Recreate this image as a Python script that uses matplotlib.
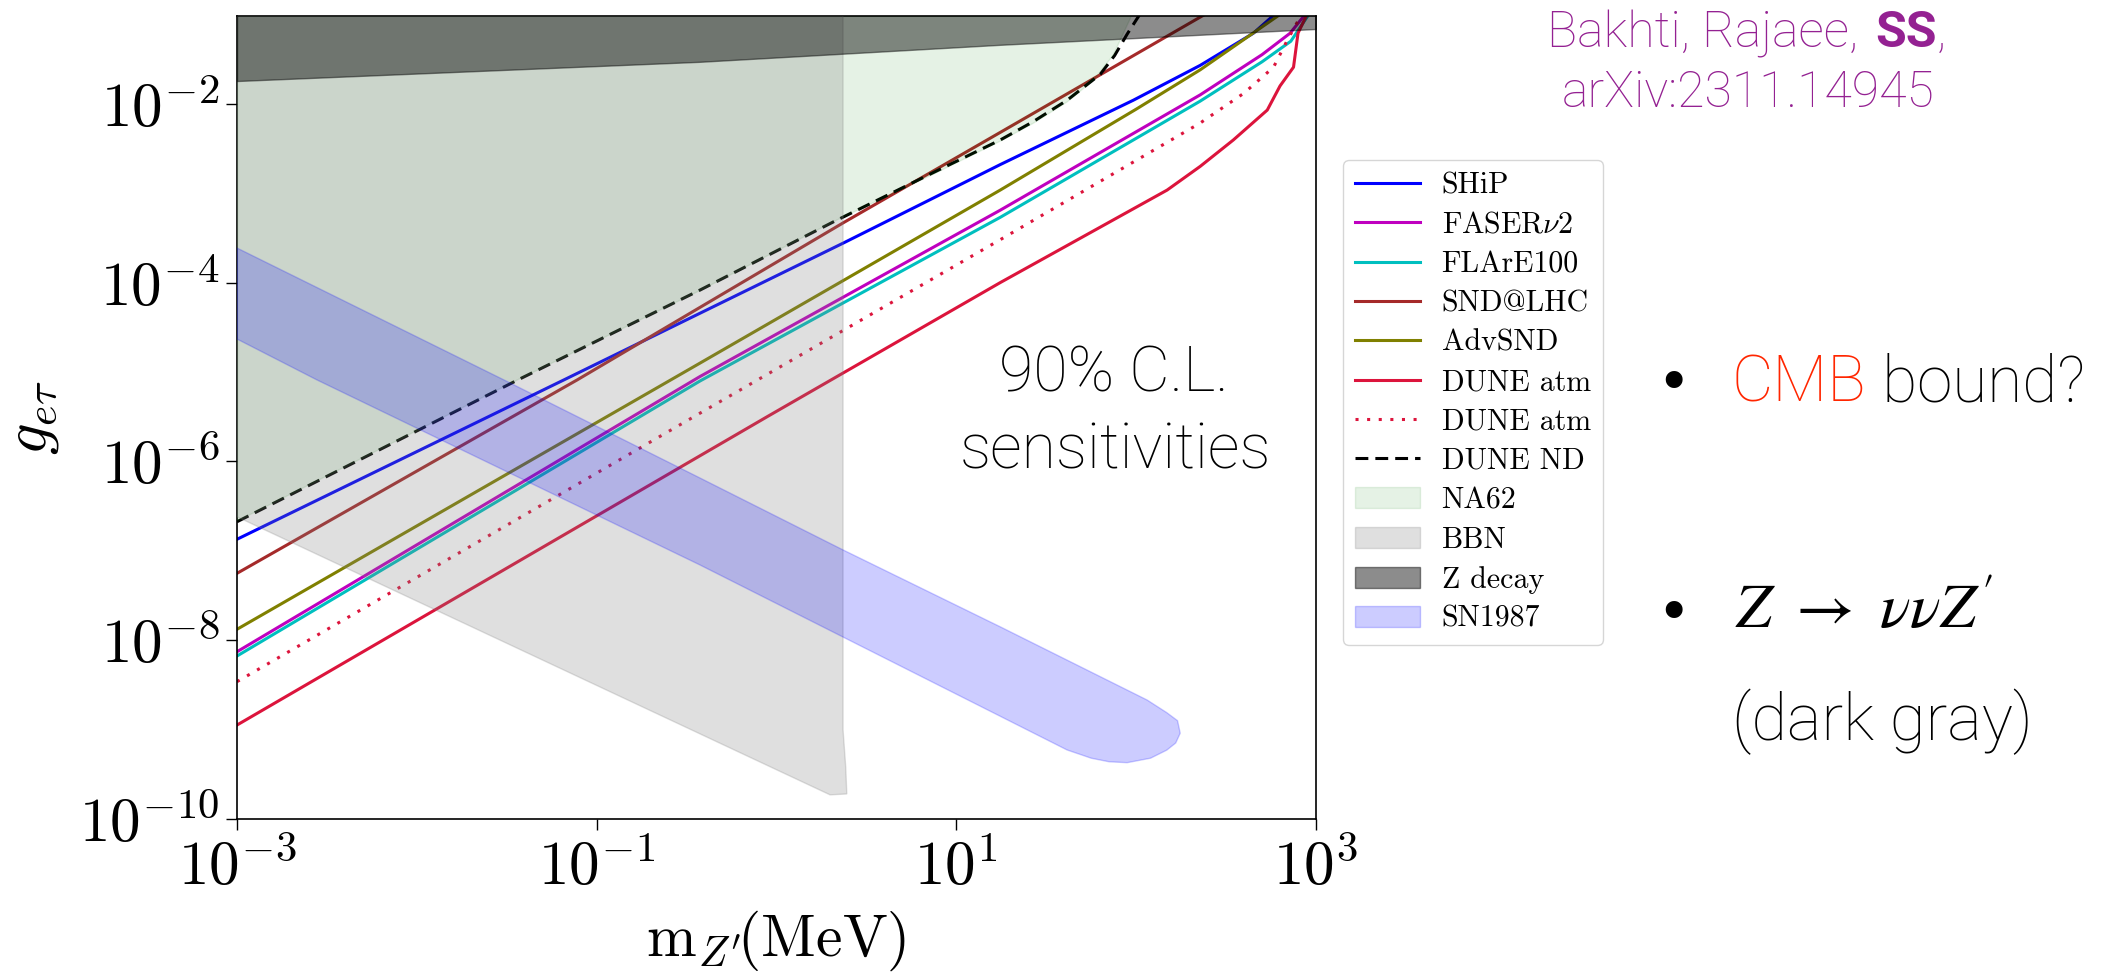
import numpy as np
import matplotlib
matplotlib.use("Agg")
import matplotlib.pyplot as plt
from matplotlib.ticker import FuncFormatter, NullLocator

#==========================================================#
#  values, stored as log10(m/MeV) and log10(g)
#==========================================================#
ship_lm = [-3, -1.183, 0.372, 1.244, 1.984, 2.356, 2.652, 2.77]
ship_lg = [-6.871, -5.089, -3.557, -2.68, -1.96, -1.57, -1.21, -1.0]

faser_lm = [-3, -0.425, 1.244, 2.356, 2.70, 2.856, 2.94]
faser_lg = [-8.129, -5.05, -3.19, -1.90, -1.45, -1.21, -1.0]

flare_lm = [-3, -0.425, 1.244, 2.356, 2.70, 2.86, 2.96]
flare_lg = [-8.177, -5.10, -3.27, -1.97, -1.53, -1.30, -1.0]

snd_lm = [-3, -1.109, 0.372, 1.244, 2.356, 2.40]
snd_lg = [-7.252, -5.089, -3.33, -2.32, -1.03, -0.98]

advsnd_lm = [-3, -0.425, 1.244, 2.0, 2.356, 2.80]
advsnd_lg = [-7.878, -4.90, -2.965, -2.06, -1.62, -1.0]

dune_atm_lm = [-3, -0.052, 1.244, 1.80, 2.172, 2.356, 2.54, 2.729, 2.80, 2.875, 2.90, 2.95]
dune_atm_lg = [-8.949, -5.5, -4.0, -3.38, -2.965, -2.70, -2.405, -2.07, -1.80, -1.59, -1.21, -1.0]

dune_atm2_lm = [-3, -0.425, 1.244, 2.356, 2.60, 2.764, 2.84, 2.92]
dune_atm2_lg = [-8.464, -5.46, -3.52, -2.215, -1.88, -1.59, -1.29, -1.0]

dune_nd_lm = [-3, -1.44, -0.425, 0.317, 0.871, 1.244, 1.427, 1.616, 1.80, 1.88, 1.95, 2.02]
dune_nd_lg = [-6.675, -5.09, -4.083, -3.32, -2.77, -2.405, -2.20, -1.96, -1.67, -1.46, -1.22, -1.0]

na62_lm = [-3, -1.44, -0.425, 0.317, 0.871, 1.244, 1.427, 1.616, 1.76, 1.87, 1.967, 2.0]
na62_lg = [-6.66, -5.08, -4.08, -3.31, -2.78, -2.41, -2.21, -1.97, -1.73, -1.45, -1.03, -0.5]

bbn_lm = [-3, 0.298, 0.391, 0.385, 0.37, 0.37, -3]
bbn_lg = [-6.62, -9.73, -9.72, -9.42, -9.0, 0.0, 0.0]

zdec_lm = [-3, -0.425, 1.244, 3]
zdec_lg = [-1.745, -1.53, -1.34, -1.163]

sn_lm = [-3, -1.515, -0.425, 0.37, 1.244, 2.061, 2.17, 2.23, 2.245, 2.22, 2.17, 2.08,
         1.95, 1.85, 1.75, 1.616, -0.425, -2.555, -3]
sn_lg = [-3.613, -5.089, -6.186, -6.99, -7.85, -8.669, -8.81, -8.9, -9.04, -9.15, -9.23, -9.32,
         -9.37, -9.36, -9.32, -9.228, -7.159, -5.089, -4.631]

W, H = 2115, 976

plt.rcParams.update({'font.family': 'serif',
                     'font.serif': ['cmr10', 'DejaVu Serif'],
                     'mathtext.fontset': 'cm',
                     'axes.formatter.use_mathtext': True,
                     'axes.linewidth': 1.2})

fig = plt.figure(figsize=(W / 100, H / 100), dpi=100)
ax = fig.add_axes([237 / W, (H - 819) / H, 1079 / W, 803 / H])

def p(lm, lg):
    return 10 ** np.array(lm, dtype=float), 10 ** np.array(lg, dtype=float)

lw = 2.2
ax.plot(*p(ship_lm, ship_lg), color='blue', lw=lw, label='SHiP')
ax.plot(*p(faser_lm, faser_lg), color='m', lw=lw, label=r'FASER$\nu$2')
ax.plot(*p(flare_lm, flare_lg), color='c', lw=lw, label='FLArE100')
ax.plot(*p(snd_lm, snd_lg), color='brown', lw=lw, label='SND@LHC')
ax.plot(*p(advsnd_lm, advsnd_lg), color='olive', lw=lw, label='AdvSND')
ax.plot(*p(dune_atm_lm, dune_atm_lg), color='crimson', lw=lw, label='DUNE atm')
ax.plot(*p(dune_atm2_lm, dune_atm2_lg), color='crimson', lw=lw, ls=(0, (1, 2.8)), label='DUNE atm')
ax.plot(*p(dune_nd_lm, dune_nd_lg), color='k', lw=lw, ls=(0, (4.2, 2.3)), label='DUNE ND')

m_na, g_na = p(na62_lm, na62_lg)
ax.fill_between(m_na, g_na, 1.0, color='green', alpha=0.1, zorder=3, label='NA62')
m_bbn, g_bbn = p(bbn_lm, bbn_lg)
ax.fill(m_bbn, g_bbn, color='gray', alpha=0.25, zorder=3, label='BBN')
m_z, g_z = p(zdec_lm, zdec_lg)
ax.fill_between(m_z, g_z, 1.0, color='k', alpha=0.45, zorder=3, label='Z decay')
m_sn, g_sn = p(sn_lm, sn_lg)
ax.fill(m_sn, g_sn, color='blue', alpha=0.2, zorder=3, label='SN1987')

ax.set_xscale('log')
ax.set_yscale('log')
ax.set_xlim(1e-3, 1e3)
ax.set_ylim(1e-10, 0.096)
ax.set_xticks([1e-3, 1e-1, 1e1, 1e3])
ax.set_yticks([1e-10, 1e-8, 1e-6, 1e-4, 1e-2])
fmt = FuncFormatter(lambda v, pos: r'$10^{%d}$' % round(np.log10(v)))
ax.xaxis.set_major_formatter(fmt)
ax.yaxis.set_major_formatter(fmt)
ax.xaxis.set_minor_locator(NullLocator())
ax.yaxis.set_minor_locator(NullLocator())
ax.tick_params(which='major', length=7.7, width=1.0, labelsize=44, pad=5)
ax.tick_params(axis='x', pad=7)

ax.set_xlabel(r'$\mathrm{m}_{Z^{\prime}}\!(\mathrm{MeV})$', fontsize=43)
ax.set_ylabel(r'$g_{e\tau}$', fontsize=45)
ax.xaxis.set_label_coords(0.5, -0.112)
ax.yaxis.set_label_coords(-0.163, 0.5)

ax.legend(loc='upper left', bbox_to_anchor=(1343 / W, 1 - 160 / H), bbox_transform=fig.transFigure,
          fontsize=21.5, handlelength=2.17, handletextpad=0.73, labelspacing=0.40,
          borderpad=0.4, borderaxespad=0)

#==== slide annotations (figure pixel positions) ===#
def fx(x):
    return x / W

def fy(y):
    return 1 - y / H

sans = dict(family=['Roboto', 'DejaVu Sans'], weight='light')
fig.text(fx(1114), fy(392), '90% C.L.', ha='center', va='baseline', fontsize=45, **sans)
fig.text(fx(1115), fy(468), 'sensitivities', ha='center', va='baseline', fontsize=45, **sans)

purple = '#942192'
fig.text(fx(1858), fy(47), 'Bakhti, Rajaee,', ha='right', va='baseline', color=purple, fontsize=36, **sans)
ss = fig.text(fx(1875), fy(47), 'SS', ha='left', va='baseline', color=purple, fontsize=36,
              family=['Roboto', 'DejaVu Sans'], weight='bold')
ax.annotate(',', xy=(1, 0), xycoords=ss, va='bottom', color=purple, fontsize=36,
            annotation_clip=False, **sans)
fig.text(fx(1935), fy(107), 'arXiv:2311.14945', ha='right', va='baseline', color=purple, fontsize=36, **sans)

fig.text(fx(1673), fy(401), '\u2022', ha='center', va='baseline', fontsize=42, family='DejaVu Sans')
cmb = fig.text(fx(1732), fy(402), 'CMB', color='#ff2600', ha='left', va='baseline', fontsize=46, **sans)
ax.annotate(' bound?', xy=(1, 0), xycoords=cmb, va='bottom', color='k', fontsize=46,
            annotation_clip=False, **sans)

fig.text(fx(1673), fy(631), '\u2022', ha='center', va='baseline', fontsize=42, family='DejaVu Sans')
fig.text(fx(1735), fy(628), r'$Z\ \rightarrow\ \nu\nu Z^{\prime}$', fontsize=46, va='baseline',
         math_fontfamily='stix')
fig.text(fx(1732), fy(740), '(dark gray)', ha='left', va='baseline', fontsize=47, **sans)

plt.savefig('out.png', dpi=100)
